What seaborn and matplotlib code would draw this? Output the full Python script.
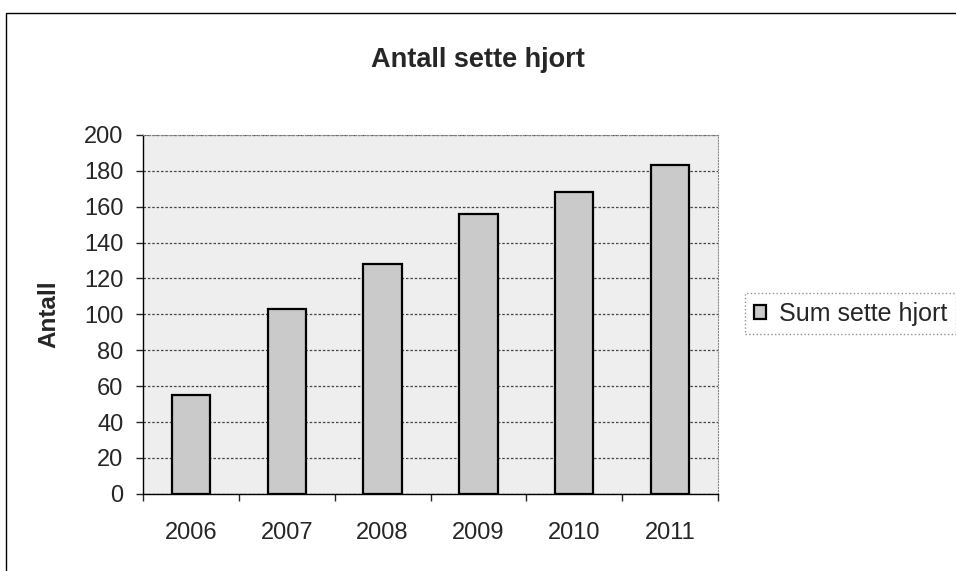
import numpy as np
import pandas as pd
import matplotlib
matplotlib.use("Agg")
import matplotlib.pyplot as plt
import seaborn as sns
from matplotlib.patches import Rectangle

# data
years = ["2006", "2007", "2008", "2009", "2010", "2011"]
antall = [55, 103, 128, 156, 168, 183]
yticks = list(range(0, 201, 20))

df = pd.DataFrame({"year": years, "antall": antall})

sns.set_style("white")
plt.rcParams["font.family"] = ["Liberation Sans", "DejaVu Sans"]

fig = plt.figure(figsize=(9.56, 5.71), dpi=100)
ax = fig.add_axes([143 / 956, 0.135, (718 - 143) / 956, 0.629])
ax.set_facecolor("#eeeeee")

sns.barplot(data=df, x="year", y="antall", color="#cacaca", width=0.4,
            edgecolor="black", linewidth=1.6, saturation=1,
            label="Sum sette hjort", ax=ax, zorder=3)

ax.set_ylim(0, 200)
ax.set_xlim(-0.5, 5.5)
ax.set_yticks(yticks)
ax.yaxis.grid(True, color="#444444", linestyle=(0, (2, 1.5)), linewidth=0.9)
ax.set_axisbelow(True)

ax.tick_params(axis="y", direction="out", length=5, width=1, labelsize=17, left=True, pad=9)
ax.tick_params(axis="x", which="major", length=0, labelsize=17, pad=20)
ax.set_xticks(np.arange(-0.5, 6, 1), minor=True)
ax.tick_params(axis="x", which="minor", direction="out", length=5, width=1, bottom=True)

for s in ["top", "right"]:
    ax.spines[s].set_color("#888888")
    ax.spines[s].set_linestyle(":")
for s in ["left", "bottom"]:
    ax.spines[s].set_color("black")
    ax.spines[s].set_linewidth(1)

ax.set_xlabel("")
ax.set_ylabel("Antall", fontsize=17.5, fontweight="bold", labelpad=17)

fig.suptitle("Antall sette hjort", fontsize=19.5, fontweight="bold", x=0.5, y=0.917)

leg = ax.legend(loc="center left", bbox_to_anchor=(745 / 956, 1 - 313.5 / 571),
                bbox_transform=fig.transFigure, fontsize=18,
                handlelength=0.5, handleheight=0.5, handletextpad=0.5,
                fancybox=False, borderpad=0.35, borderaxespad=0)
leg.get_frame().set_edgecolor("#777777")
leg.get_frame().set_linestyle(":")
leg.get_frame().set_linewidth(1)

# outer chart border
fig.patches.append(Rectangle((0.006, -0.2), 1.2, 1.2 - 13 / 571, transform=fig.transFigure,
                             fill=False, edgecolor="black", linewidth=1))

fig.savefig("out.png", dpi=100)
